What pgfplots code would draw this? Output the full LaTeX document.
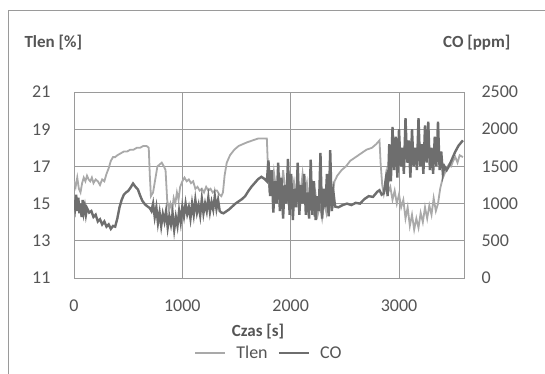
\documentclass[border=0pt]{standalone}
\usepackage{fontspec}
\setmainfont{Carlito}
\usepackage{pgfplots}
\pgfplotsset{compat=1.18}
\definecolor{tlencol}{HTML}{A9A9A9}
\definecolor{cocol}{HTML}{6E6E6E}
\definecolor{gridcol}{HTML}{9A9A9A}
\definecolor{txtcol}{HTML}{555555}
\begin{document}
\begin{tikzpicture}
\useasboundingbox (0,0) rectangle (545pt,373pt);
\fill[white] (0,0) rectangle (545pt,373pt);
\draw[gridcol, line width=0.8pt] (8pt,-10pt) rectangle (560pt,363pt);
\node[anchor=west, text=txtcol, font=\fontsize{17}{19}\selectfont\bfseries] at (21pt,330pt) {Tlen [\%]};
\node[anchor=east, text=txtcol, font=\fontsize{17}{19}\selectfont\bfseries] at (514pt,330pt) {CO [ppm]};
\pgfplotsset{
  every axis/.append style={
    scale only axis, width=390pt, height=186pt, at={(74pt,95pt)}, anchor=south west,
    xmin=0, xmax=3600,
    major tick length=0pt,
    tick label style={font=\fontsize{18}{20}\selectfont, text=txtcol},
    /pgf/number format/assume math mode=true,
    /pgf/number format/set thousands separator={},
    axis line style={gridcol, line width=0.8pt},
  }
}
\begin{axis}[
  ymin=11, ymax=21, ytick={11,13,15,17,19,21},
  xtick={0,1000,2000,3000},
  grid=major, grid style={gridcol, line width=0.8pt},
  yticklabel style={xshift=-20pt},
  xticklabel style={yshift=-18pt},
  xlabel={Czas [s]},
  xlabel style={font=\fontsize{17}{19}\selectfont\bfseries, text=txtcol, at={(axis description cs:0.472,-0.29)}, anchor=center},
]
\addplot[tlencol, line width=1.8pt] coordinates {
(0,16.2)(15,15.9)(30,16.4)(45,15.8)(60,15.6)(75,16.1)(90,16.4)(105,16.2)(120,16.5)(135,16.3)
(150,16.2)(165,16.4)(180,16.1)(200,16.3)(220,16.2)(240,16.0)(260,16.3)(280,16.2)(300,16.6)(320,16.9)
(340,17.3)(360,17.5)(380,17.5)(400,17.6)(430,17.7)(460,17.8)(490,17.8)(520,17.9)(550,17.9)(580,18.0)
(610,18.0)(640,18.1)(670,18.1)(690,18.0)(700,16.5)(710,15.4)(730,15.6)(750,16.3)(770,17.0)(790,17.1)
(810,17.2)(830,17.0)(845,16.8)(860,15.2)(875,14.7)(890,15.0)(905,14.6)(920,15.3)(935,15.0)(950,15.6)
(965,15.2)(980,15.9)(1000,16.2)(1020,16.4)(1040,16.2)(1060,16.3)(1080,16.1)(1100,16.2)(1120,15.8)(1140,15.9)
(1160,15.7)(1180,15.8)(1200,15.6)(1220,15.9)(1240,15.7)(1260,15.8)(1280,15.6)(1300,15.7)(1320,15.7)(1340,15.5)
(1360,15.4)(1375,15.6)(1390,16.5)(1410,17.2)(1440,17.6)(1480,17.9)(1520,18.1)(1560,18.2)(1600,18.3)(1650,18.4)
(1700,18.5)(1750,18.5)(1780,18.5)(1790,17.0)(1800,16.0)(1815,16.5)(1830,15.8)(1845,16.7)(1860,16.0)(1880,15.4)
(1900,16.3)(1915,15.6)(1930,16.8)(1950,15.7)(1970,15.2)(1990,16.4)(2010,15.6)(2030,16.2)(2050,15.3)(2070,16.0)
(2090,15.5)(2110,16.6)(2130,15.4)(2150,16.1)(2170,14.8)(2190,15.3)(2210,14.6)(2230,15.5)(2250,14.4)(2270,14.9)
(2290,14.2)(2310,15.1)(2330,14.5)(2350,15.4)(2370,14.8)(2390,15.6)(2405,16.2)(2430,16.5)(2470,16.8)(2510,17.0)
(2550,17.3)(2600,17.5)(2650,17.7)(2700,17.9)(2750,18.0)(2790,18.2)(2820,18.4)(2830,17.2)(2845,16.0)(2860,15.5)
(2880,16.0)(2900,15.6)(2920,15.9)(2940,15.2)(2960,15.7)(2980,15.0)(3000,15.5)(3020,14.8)(3040,15.2)(3060,14.2)
(3080,14.8)(3100,13.8)(3120,14.4)(3140,13.6)(3160,14.2)(3180,13.7)(3200,14.5)(3220,14.0)(3240,14.8)(3260,14.2)
(3280,14.9)(3300,14.4)(3320,15.3)(3340,14.6)(3360,15.0)(3380,15.8)(3400,16.3)(3420,16.6)(3440,16.9)(3460,17.1)
(3480,17.0)(3500,17.3)(3520,17.5)(3540,17.2)(3560,17.6)(3590,17.5)
};
\end{axis}
\begin{axis}[
  ymin=0, ymax=2500, ytick={0,500,1000,1500,2000,2500},
  axis y line*=right, axis x line=none,
  yticklabel style={anchor=west, xshift=14pt},
  legend style={at={(0.5,-0.403)}, anchor=center, legend columns=2, draw=none, fill=none,
    font=\fontsize{18}{20}\selectfont, text=txtcol, column sep=8pt},
  legend image code/.code={\draw[#1] (0pt,0pt) -- (30pt,0pt);},
]
\addlegendimage{tlencol, line width=1.8pt}
\addlegendentry{Tlen}
\addplot[cocol, line width=2.4pt] coordinates {
(0,1050)(10,950)(20,1120)(30,900)(40,1080)(50,870)(60,1000)(70,820)(80,1050)(90,880)
(100,960)(110,850)(120,940)(140,880)(160,900)(180,820)(200,850)(220,760)(240,790)(260,720)
(280,760)(300,690)(320,720)(340,660)(360,700)(380,690)(400,800)(420,950)(440,1050)(460,1120)
(480,1150)(500,1170)(520,1210)(545,1270)(565,1230)(590,1190)(610,1110)(630,1040)(655,990)(680,960)
(700,940)(715,900)(730,1000)(745,820)(760,950)(775,740)(790,880)(805,700)(820,860)(835,760)
(850,900)(865,680)(880,830)(895,720)(910,870)(925,650)(940,820)(955,700)(970,900)(985,750)
(1000,960)(1015,830)(1030,1000)(1045,860)(1060,950)(1075,800)(1090,1000)(1105,850)(1120,1050)(1135,880)
(1150,980)(1165,840)(1180,1060)(1195,870)(1210,1000)(1225,900)(1240,1080)(1255,890)(1270,1020)(1285,920)
(1300,1100)(1315,930)(1330,1050)(1345,900)(1360,880)(1380,870)(1400,890)(1430,920)(1460,960)(1490,1000)
(1520,1030)(1550,1060)(1580,1100)(1610,1170)(1640,1230)(1670,1280)(1700,1330)(1730,1360)(1760,1330)(1780,1300)
(1795,1580)(1810,1100)(1825,1450)(1840,880)(1855,1300)(1870,1000)(1885,1550)(1900,900)(1915,1350)(1930,800)
(1945,1250)(1960,1000)(1975,1600)(1990,850)(2005,1400)(2020,780)(2035,1200)(2050,950)(2065,1550)(2080,850)
(2095,1250)(2110,1000)(2125,1400)(2140,850)(2155,1150)(2170,800)(2185,1590)(2200,850)(2215,1300)(2230,780)
(2245,1100)(2260,900)(2275,1680)(2290,800)(2305,1200)(2320,950)(2335,1400)(2350,830)(2365,1720)(2380,900)
(2395,1150)(2410,960)(2440,950)(2480,980)(2520,1000)(2560,980)(2600,1010)(2640,1000)(2680,1060)(2720,1100)
(2760,1090)(2800,1160)(2820,1180)(2840,1120)(2860,1140)(2880,1350)(2895,1100)(2910,1800)(2925,1300)(2940,2030)
(2955,1450)(2970,1900)(2985,1350)(3000,2000)(3015,1500)(3030,1750)(3045,1400)(3060,2150)(3075,1550)(3090,1850)
(3105,1350)(3120,2000)(3135,1500)(3150,1750)(3165,1450)(3180,2150)(3195,1500)(3210,1800)(3225,1400)(3240,2050)
(3255,1550)(3270,2100)(3285,1450)(3300,1750)(3315,1400)(3330,1900)(3345,1500)(3360,2100)(3375,1450)(3390,1700)
(3405,1400)(3420,1500)(3440,1450)(3460,1500)(3490,1600)(3520,1700)(3550,1780)(3590,1850)
};
\addlegendentry{CO}
\end{axis}
\end{tikzpicture}
\end{document}
